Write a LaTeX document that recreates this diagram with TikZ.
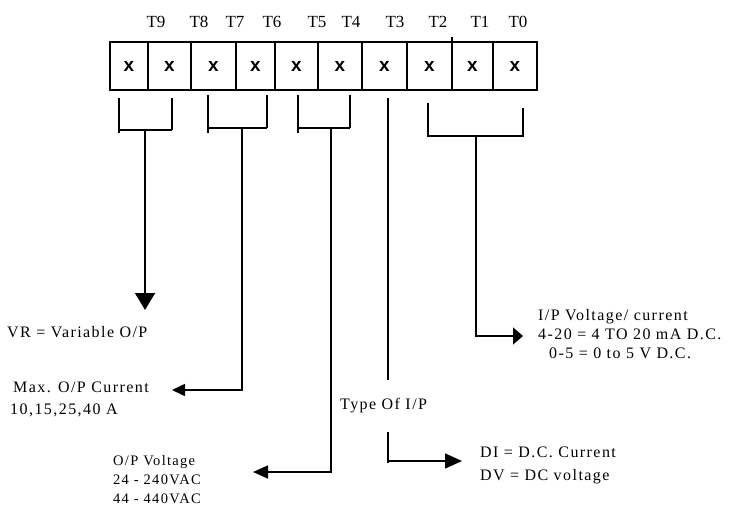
\documentclass[tikz,border=0pt]{standalone}
\usepackage{fontspec}
\setmainfont{Liberation Serif}
\newfontfamily\xfont{Liberation Sans}
\newfontfamily\lsfont[LetterSpace=9]{Liberation Serif}
\usetikzlibrary{arrows.meta}
\tikzset{
  cell/.style={draw, line width=2.6pt, minimum height=48pt, inner sep=0pt, outer sep=0pt,
    font=\xfont\bfseries\fontsize{19}{19}\selectfont},
  tlab/.style={anchor=base, inner sep=0pt, font=\fontsize{17}{17}\selectfont},
  txt/.style={anchor=base west, inner sep=0pt, font=\lsfont\fontsize{16}{16}\selectfont},
  stxt/.style={anchor=base west, inner sep=0pt, font=\lsfont\fontsize{14.5}{14.5}\selectfont},
  brk/.style={line width=1.3pt},
  stem/.style={line width=1.6pt},
}
\begin{document}
\begin{tikzpicture}[x=1pt,y=-1pt]
\useasboundingbox (0,0) rectangle (743,506);
% cells
\node[cell, minimum width=38pt] (c9) at (129,66) {x};
\node[cell, minimum width=43pt] (c8) at (169.5,66) {x};
\node[cell, minimum width=45pt] (c7) at (213.5,66) {x};
\node[cell, minimum width=39pt] (c6) at (255.5,66) {x};
\node[cell, minimum width=43pt] (c5) at (296.5,66) {x};
\node[cell, minimum width=44pt] (c4) at (340,66) {x};
\node[cell, minimum width=45pt] (c3) at (384.5,66) {x};
\node[cell, minimum width=45pt] (c2) at (429.5,66) {x};
\node[cell, minimum width=41pt] (c1) at (472.5,66) {x};
\node[cell, minimum width=44pt] (c0) at (515,66) {x};
\coordinate (tick) at (452,37);
\draw[line width=1.2pt] (tick) -- (c2.north east);
% T labels
\node[tlab] (t9) at (156,27) {T9};
\node[tlab] (t8) at (199,27) {T8};
\node[tlab] (t7) at (235,27) {T7};
\node[tlab] (t6) at (272,27) {T6};
\node[tlab] (t5) at (317,27) {T5};
\node[tlab] (t4) at (351,27) {T4};
\node[tlab] (t3) at (395,27) {T3};
\node[tlab] (t2) at (438,27) {T2};
\node[tlab] (t1) at (480,27) {T1};
\node[tlab] (t0) at (518,27) {T0};
% bracket 1 (T9)
\coordinate (a1) at (119,98); \coordinate (a2) at (119,133);
\coordinate (a3) at (172,98); \coordinate (a4) at (172,130);
\coordinate (a5) at (119,130); \coordinate (am) at (145,130);
\draw[brk] (a1) -- (a2); \draw[brk] (a3) -- (a4); \draw[brk] (a5) -- (a4);
% bracket 2 (T8-T7)
\coordinate (b1) at (208,95); \coordinate (b2) at (208,133);
\coordinate (b3) at (267,95); \coordinate (b4) at (267,128);
\coordinate (b5) at (208,128); \coordinate (bm) at (242,128);
\draw[brk] (b1) -- (b2); \draw[brk] (b3) -- (b4); \draw[brk] (b5) -- (b4);
% bracket 3 (T6-T5)
\coordinate (d1) at (298,95); \coordinate (d2) at (298,133);
\coordinate (d3) at (350,95); \coordinate (d4) at (350,128);
\coordinate (d5) at (298,128); \coordinate (dm) at (331,128);
\draw[brk] (d1) -- (d2); \draw[brk] (d3) -- (d4); \draw[brk] (d5) -- (d4);
% bracket 5 (T2-T0)
\coordinate (e1) at (428,103); \coordinate (e2) at (428,136);
\coordinate (e3) at (523,108); \coordinate (e4) at (523,136);
\coordinate (em) at (476,136);
\draw[brk] (e1) -- (e2) -- (e4) -- (e3);
% T3 line
\coordinate (f1) at (388,98); \coordinate (f2) at (388,380);
\draw[stem] (f1) -- (f2);
% texts
\node[txt] (vr) at (7,337) {VR = Variable O/P};
\node[txt] (mx1) at (13,392) {Max. O/P Current};
\node[txt] (mx2) at (10,414) {10,15,25,40 A};
\node[stxt] (op1) at (113,465) {O/P Voltage};
\node[stxt] (op2) at (113,484) {24 - 240VAC};
\node[stxt] (op3) at (113,503) {44 - 440VAC};
\node[txt] (ip1) at (538,320) {I/P Voltage/ current};
\node[txt] (ip2) at (538,339) {4-20 = 4 TO 20 mA D.C.};
\node[txt] (ip3) at (549,358) {0-5 = 0 to 5 V D.C.};
\node[txt] (ty) at (340,409) {Type Of I/P};
\node[txt] (di1) at (480,457) {DI = D.C. Current};
\node[txt] (di2) at (480,480) {DV = DC voltage};
% connectors
\coordinate (vrtip) at (145,310);
\draw[stem, -{Triangle[length=17pt,width=20pt]}] (am) -- (vrtip);
\coordinate (mxtip) at (172,390);
\draw[stem, -{Triangle[length=13pt,width=12pt]}] (bm) |- (mxtip);
\coordinate (optip) at (253,472);
\draw[stem, -{Triangle[length=15pt,width=13pt]}] (dm) |- (optip);
\coordinate (iptip) at (523,336);
\draw[stem, -{Triangle[length=10pt,width=17pt]}] (em) |- (iptip);
\coordinate (g1) at (388,432); \coordinate (g2) at (388,463);
\coordinate (g3) at (388,461); \coordinate (ditip) at (462,461);
\draw[stem] (g1) -- (g2);
\draw[stem, -{Triangle[length=17pt,width=15pt]}] (g3) -- (ditip);
\end{tikzpicture}
\end{document}
